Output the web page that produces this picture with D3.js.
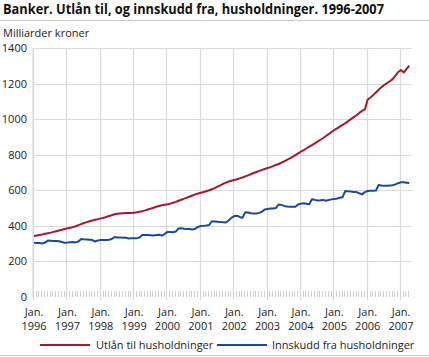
<!DOCTYPE html>
<html><head><meta charset="utf-8">
<script src="https://cdn.jsdelivr.net/npm/d3@7"></script>
<style>
html,body{margin:0;padding:0;background:#fff;}
svg{display:block;font-family:"Open Sans",sans-serif;}
</style></head>
<body><svg id="c" width="429" height="357"></svg>
<script>
const title = "Banker. Utlån til, og innskudd fra, husholdninger. 1996-2007";
const unitLabel = "Milliarder kroner";
const seriesNames = ["Utlån til husholdninger", "Innskudd fra husholdninger"];
const firstMonth = "1996-01";
const yTicks = [0, 200, 400, 600, 800, 1000, 1200, 1400];
const yearLabels = ["1996","1997","1998","1999","2000","2001","2002","2003","2004","2005","2006","2007"];

// Monthly values, Jan 1996 – Apr 2007
const utlan = [
 343,346,349,352,356,359,362,366,370,374,378,382,
 386,389,393,398,404,410,416,421,426,430,434,438,
 442,446,450,455,460,465,468,470,471,472,473,472,
 474,476,479,483,487,492,497,502,507,512,516,519,
 521,525,530,535,541,547,553,559,565,571,577,582,
 586,590,595,600,606,612,620,628,636,643,649,654,
 658,662,667,672,678,684,690,697,703,709,715,720,
 725,730,736,742,748,755,763,771,779,788,798,808,
 817,826,835,845,854,864,874,884,894,905,916,928,
 939,948,958,968,978,989,1000,1011,1022,1035,1047,1055,
 1110,1122,1135,1150,1165,1180,1192,1203,1213,1225,1245,1265,
 1276,1263,1282,1300
];
const innskudd = [
 305,304,303,301,306,317,316,315,315,313,309,305,
 306,308,309,307,312,326,324,323,322,320,312,318,
 320,321,320,322,326,337,335,334,333,334,329,331,
 330,331,334,348,349,348,347,346,348,350,345,354,
 366,365,364,368,385,386,384,383,382,380,384,394,
 399,400,402,405,426,425,423,421,420,419,430,445,
 455,457,450,446,476,475,471,469,470,473,480,492,
 495,497,498,500,520,518,512,509,508,507,507,520,
 525,527,524,521,550,546,543,544,546,541,545,549,
 551,554,558,561,596,594,593,591,590,583,577,590,
 596,597,598,599,630,627,625,626,627,628,633,640,
 645,645,643,641
];

const colors = ["#a8182c", "#1a4b9b"];
const svg = d3.select("#c");
const parse = d3.timeParse("%Y-%m");
const start = parse(firstMonth);
const dates = utlan.map((_, i) => d3.timeMonth.offset(start, i));
const end = d3.timeMonth.offset(start, utlan.length);

const L = 34, R = 412, T = 48, B = 297;
const x = d3.scaleTime().domain([start, end]).range([L, R]);
const y = d3.scaleLinear().domain([0, 1400]).range([B, T]);

// title
const t = svg.append("text").attr("x", 3).attr("y", 14)
  .attr("font-weight", "bold").attr("font-size", 14).attr("fill", "#111").text(title);
const tw = t.node().getComputedTextLength();
if (tw > 381) t.attr("textLength", 381).attr("lengthAdjust", "spacingAndGlyphs");
svg.append("line").attr("x1", 0).attr("x2", 429).attr("y1", 20.5).attr("y2", 20.5)
  .attr("stroke", "#c8c8c8").attr("stroke-width", 1);
svg.append("text").attr("x", 3).attr("y", 37).attr("font-size", 11).attr("fill", "#222").text(unitLabel);

// grid
const g = svg.append("g");
g.selectAll("line.h").data(yTicks.filter(d => d > 0)).join("line")
  .attr("x1", L - 1).attr("x2", R).attr("y1", d => Math.round(y(d)) + 0.5).attr("y2", d => Math.round(y(d)) + 0.5)
  .attr("stroke", "#dadada").attr("stroke-width", 1.2);
const years = yearLabels.map(s => parse(s + "-01"));
g.selectAll("line.v").data(years).join("line")
  .attr("x1", d => Math.round(x(d)) - 0.5).attr("x2", d => Math.round(x(d)) - 0.5)
  .attr("y1", T).attr("y2", B + 3)
  .attr("stroke", "#dadada").attr("stroke-width", 1.2);
g.append("line").attr("x1", L - 1).attr("x2", L - 1).attr("y1", T).attr("y2", B).attr("stroke", "#dadada").attr("stroke-width", 1.2);
// minor monthly ticks
const allMonths = d3.timeMonth.range(start, end);
g.selectAll("line.m").data(allMonths).join("line")
  .attr("x1", d => Math.round(x(d)) - 0.5).attr("x2", d => Math.round(x(d)) - 0.5)
  .attr("y1", B - 6).attr("y2", B)
  .attr("stroke", "#d0d0d0").attr("stroke-width", 1);

// y labels
svg.append("g").selectAll("text").data(yTicks).join("text")
  .attr("x", 27).attr("y", d => y(d) + 4).attr("text-anchor", "end")
  .attr("font-size", 11).attr("fill", "#222").text(d => d);

// x labels
const xg = svg.append("g").attr("text-anchor", "middle").attr("font-size", 11).attr("fill", "#222");
xg.selectAll("text.j").data(years).join("text").attr("class", "j")
  .attr("x", d => x(d)).attr("y", 316).text("Jan.");
xg.selectAll("text.yr").data(years).join("text").attr("class", "yr")
  .attr("x", d => x(d)).attr("y", 330).text((d, i) => yearLabels[i]);

// lines
const series = [utlan, innskudd];
const line = d3.line().x((d, i) => x(dates[i])).y(d => y(d));
series.forEach((s, k) => {
  svg.append("path").datum(s).attr("d", line).attr("fill", "none")
    .attr("stroke", colors[k]).attr("stroke-width", 2).attr("stroke-linejoin", "round");
});

// legend
const lg = [{x1: 40, x2: 90, tx: 96}, {x1: 217, x2: 267, tx: 272}];
seriesNames.forEach((n, k) => {
  svg.append("line").attr("x1", lg[k].x1).attr("x2", lg[k].x2).attr("y1", 345).attr("y2", 345)
    .attr("stroke", colors[k]).attr("stroke-width", 2);
  svg.append("text").attr("x", lg[k].tx).attr("y", 349).attr("font-size", 11).attr("fill", "#222").text(n);
});
svg.append("line").attr("x1", 0).attr("x2", 429).attr("y1", 355.5).attr("y2", 355.5)
  .attr("stroke", "#c8c8c8").attr("stroke-width", 1);
</script></body></html>
